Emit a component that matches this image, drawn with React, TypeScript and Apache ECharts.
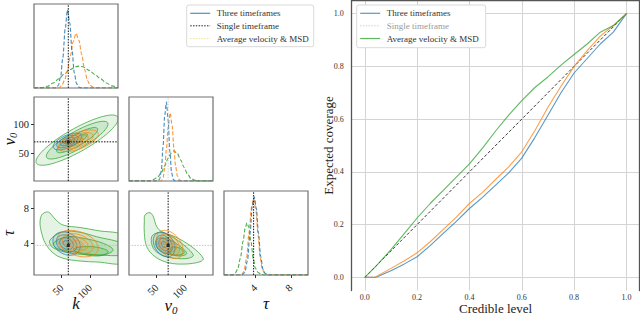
import React, { useEffect, useRef } from 'react';
import * as echarts from 'echarts';

const FONT = 'Liberation Serif';
const BLUE = '#1f77b4';
const ORANGE = '#ff7f0e';
const GREEN = '#2ca02c';

// ---------- Right panel: coverage ----------
const credibleLevels = [0, 0.04, 0.05, 0.1, 0.15, 0.2, 0.25, 0.3, 0.35, 0.4, 0.45, 0.5, 0.55, 0.6, 0.65, 0.7, 0.75, 0.8, 0.85, 0.9, 0.95, 1.0];
const coverageThree = [0, 0, 0.003, 0.025, 0.05, 0.078, 0.12, 0.167, 0.212, 0.261, 0.303, 0.35, 0.396, 0.452, 0.53, 0.615, 0.7, 0.775, 0.83, 0.885, 0.93, 1.0];
const coverageSingle = [0, 0, 0.006, 0.034, 0.062, 0.093, 0.135, 0.182, 0.228, 0.28, 0.322, 0.371, 0.419, 0.476, 0.556, 0.645, 0.725, 0.8, 0.86, 0.915, 0.955, 1.0];
const coverageAverage = [0, 0.04, 0.05, 0.105, 0.165, 0.225, 0.28, 0.33, 0.38, 0.43, 0.49, 0.555, 0.615, 0.67, 0.72, 0.76, 0.805, 0.845, 0.885, 0.93, 0.955, 1.0];
const identityLine = [[0, 0], [1, 1]];
const coverageTicks = [0, 0.2, 0.4, 0.6, 0.8, 1.0];
const coverageRange = [-0.05, 1.05];

// ---------- Corner plot ----------
const kRange = [1.5, 148.5];
const v0Range = [1.5, 148.5];
const tauRange = [0.45, 9.95];
const kTicks = [50, 100];
const v0Ticks = [50, 100];
const tauTicks = [4, 8];
const truthK = 61.5;
const truthV0 = 70;
const truthTau = 3.8;

// marginal densities (x, relative height)
const margKThree = [[1.5, 0], [40, 0], [44, 0.03], [48, 0.13], [52, 0.36], [56, 0.7], [60, 0.93], [64, 0.78], [68, 0.45], [72, 0.18], [76, 0.05], [80, 0.01], [84, 0], [148.5, 0]];
const margKSingle = [[1.5, 0], [45, 0], [50, 0.03], [55, 0.09], [60, 0.21], [65, 0.38], [70, 0.55], [75, 0.65], [80, 0.57], [85, 0.4], [90, 0.22], [95, 0.09], [100, 0.03], [106, 0.005], [110, 0], [148.5, 0]];
const margKAverage = [[1.5, 0], [15, 0.005], [25, 0.02], [35, 0.06], [45, 0.11], [55, 0.17], [65, 0.22], [75, 0.255], [80, 0.26], [88, 0.25], [98, 0.21], [108, 0.16], [118, 0.11], [128, 0.06], [138, 0.025], [148.5, 0.005]];

const margVThree = [[1.5, 0], [52, 0], [55, 0.02], [58, 0.12], [61, 0.4], [64, 0.78], [67, 0.94], [70, 0.72], [73, 0.35], [76, 0.1], [79, 0.02], [82, 0], [148.5, 0]];
const margVSingle = [[1.5, 0], [58, 0], [61, 0.04], [64, 0.15], [67, 0.38], [70, 0.64], [73.5, 0.81], [77, 0.66], [80, 0.4], [83, 0.18], [86, 0.06], [90, 0.01], [94, 0], [148.5, 0]];
const margVAverage = [[1.5, 0], [38, 0], [45, 0.02], [52, 0.05], [58, 0.1], [64, 0.18], [70, 0.27], [75, 0.33], [80, 0.36], [86, 0.33], [92, 0.25], [98, 0.16], [104, 0.08], [110, 0.03], [116, 0.01], [122, 0], [148.5, 0]];

const margTThree = [[0.45, 0], [2.5, 0], [2.8, 0.03], [3.1, 0.17], [3.4, 0.5], [3.65, 0.83], [3.88, 0.93], [4.1, 0.8], [4.35, 0.5], [4.6, 0.22], [4.85, 0.07], [5.1, 0.02], [5.4, 0], [9.95, 0]];
const margTSingle = [[0.45, 0], [2.4, 0], [2.7, 0.04], [3.0, 0.2], [3.3, 0.52], [3.55, 0.8], [3.8, 0.91], [4.05, 0.78], [4.3, 0.48], [4.55, 0.2], [4.8, 0.06], [5.1, 0.01], [5.4, 0], [9.95, 0]];
const margTAverage = [[0.45, 0], [1.4, 0], [1.7, 0.02], [2.0, 0.07], [2.3, 0.2], [2.6, 0.4], [2.85, 0.56], [3.05, 0.62], [3.25, 0.57], [3.5, 0.4], [3.75, 0.2], [4.0, 0.08], [4.3, 0.03], [4.7, 0.005], [5.0, 0], [9.95, 0]];

// 2D contours: ellipses [centre x, centre y, spread x, spread y, correlation]
const contourRadii = [2, 1.5, 1, 0.5];
const ellKVThree = [60, 70.5, 12.5, 7.3, 0.6];
const ellKVSingle = [79, 72, 17.5, 9.5, 0.6];
const ellKVAverage = [77, 73, 36, 22, 0.85];
const ellKTThree = [58.5, 4.0, 12, 0.66, -0.25];
const ellKTSingle = [78, 4.0, 18, 0.75, -0.35];
const ellVTThree = [63, 3.9, 9.5, 0.7, -0.3];
const ellVTSingle = [73, 3.9, 11.5, 0.8, -0.4];

// green (Average velocity & MSD) contours in tau panels, outer to inner
const greenKT1 = [[12, 6.3], [15, 7.24], [23.7, 7.58], [29.5, 7.46], [38.3, 6.78], [52.3, 6.1], [82, 5.82], [112, 5.48], [160, 4.8], [160, 1.9], [112, 1.92], [82, 2.03], [52.3, 2.34], [35, 2.94], [21, 4.07], [15, 5.17]];
const greenKT2 = [[29.5, 4.41], [52.8, 5.35], [82, 5.28], [111, 4.78], [160, 3.9], [160, 2.8], [111, 2.71], [82, 2.79], [52.8, 3.09], [32.5, 3.65]];
const greenKT3 = [[35.3, 4.03], [58.7, 4.78], [87.8, 4.6], [122.8, 4.03], [140, 3.28], [122.8, 2.71], [87.8, 2.9], [58.7, 3.2], [41.2, 3.47]];
const greenKT4 = [[70.3, 3.3], [80, 3.6], [111, 3.6], [131.5, 3.1], [117, 2.62], [90, 2.78]];
const greenVT1 = [[29.5, 7.24], [38.3, 7.5], [44, 7.05], [50, 5.91], [58.7, 5.35], [82, 4.78], [111.2, 3.65], [131.5, 2.34], [125.8, 1.95], [99.5, 1.69], [70.3, 1.84], [47, 2.52], [32.5, 3.65], [28.3, 5.17], [28.3, 6.48]];
const greenVT2 = [[41.2, 4.78], [52.8, 5.24], [70.3, 4.97], [93.7, 4.03], [114, 2.71], [105.3, 2.34], [82, 2.34], [58.7, 2.71], [44, 3.47]];
const greenVT3 = [[48.2, 4.03], [52.8, 4.6], [70.3, 4.49], [87.8, 3.84], [102.5, 2.9], [90.8, 2.6], [70.3, 2.83], [52.8, 3.35]];
const greenVT4 = [[76.2, 3.58], [90.8, 3.47], [98.3, 2.97], [87.8, 2.71], [73.2, 2.9]];

const panelPos = [
  [34, 4], [34, 97], [129, 97], [34, 191], [129, 191], [224, 191],
];
const PANEL = 84;

function rgba(hex: string, a: number) {
  const n = parseInt(hex.slice(1), 16);
  return `rgba(${(n >> 16) & 255},${(n >> 8) & 255},${n & 255},${a})`;
}

const tickText = { fontFamily: FONT, fontSize: 10.5, color: '#222' };
const nameBase = { fontFamily: FONT, fontSize: 17, color: '#111', fontStyle: 'italic' };
const nameBaseY = { fontFamily: FONT, fontSize: 16, color: '#111', fontStyle: 'italic' };
const v0Name = '{a|v}{b|0}';
const v0Rich = { a: { fontFamily: FONT, fontSize: 17, fontStyle: 'italic', lineHeight: 20, color: '#111' }, b: { fontFamily: FONT, fontSize: 11, verticalAlign: 'bottom', color: '#111' } };
const v0RichY = { a: { fontFamily: FONT, fontSize: 16, fontStyle: 'italic', lineHeight: 18, color: '#111' }, b: { fontFamily: FONT, fontSize: 10.5, verticalAlign: 'bottom', color: '#111' } };

function cornerX(gi: number, range: number[], ticks: number[], show: boolean, name?: string, rich?: any) {
  return {
    type: 'value', gridIndex: gi, min: range[0], max: range[1],
    axisLine: { show: false, onZero: false }, splitLine: { show: false },
    axisTick: { show, length: 3, customValues: ticks, lineStyle: { color: '#333' } },
    axisLabel: { show, customValues: ticks, rotate: 45, margin: 11, ...tickText },
    name: name || '', nameLocation: 'middle', nameGap: 20, nameMoveOverlap: false,
    nameTextStyle: { ...nameBase, rich },
  };
}
function cornerY(gi: number, range: number[], ticks: number[], show: boolean, name?: string, rich?: any, gap = 19) {
  return {
    type: 'value', gridIndex: gi, min: range[0], max: range[1],
    axisLine: { show: false, onZero: false }, splitLine: { show: false },
    axisTick: { show, length: 3, customValues: ticks, lineStyle: { color: '#333' } },
    axisLabel: { show, customValues: ticks, margin: 5, ...tickText },
    name: name || '', nameLocation: 'middle', nameGap: gap, nameMoveOverlap: false,
    nameTextStyle: { ...nameBaseY, rich },
  };
}
function margY(gi: number) {
  return {
    type: 'value', gridIndex: gi, min: 0, max: 1,
    axisLine: { show: false, onZero: false }, splitLine: { show: false }, axisTick: { show: false }, axisLabel: { show: false },
  };
}

function margLine(i: number, data: number[][], color: string) {
  return {
    type: 'line', xAxisIndex: i, yAxisIndex: i, data, symbol: 'none', silent: true,
    smooth: 0.3, smoothMonotone: 'x',
    lineStyle: { color, width: 1.1, type: [4, 2], opacity: 0.85 },
  };
}
function truthLine(i: number, data: number[][], color: string, width = 1) {
  return {
    type: 'line', xAxisIndex: i, yAxisIndex: i, data, symbol: 'none', silent: true,
    itemStyle: { color }, lineStyle: { color, width, type: [1.5, 1.3] }, z: 5,
  };
}
function ellipseSeries(i: number, params: number[], color: string, fillA: number) {
  const [cx, cy, sx, sy, rho] = params;
  const q = Math.sqrt(1 - rho * rho);
  return {
    type: 'custom', xAxisIndex: i, yAxisIndex: i, silent: true, clip: true,
    data: contourRadii.map((r) => [cx, cy, r]),
    renderItem: (p: any, api: any) => {
      const x0 = api.value(0), y0 = api.value(1), r = api.value(2);
      const pts: number[][] = [];
      for (let j = 0; j < 72; j++) {
        const t = (j / 72) * Math.PI * 2;
        pts.push(api.coord([x0 + r * sx * Math.cos(t), y0 + r * sy * (rho * Math.cos(t) + q * Math.sin(t))]));
      }
      return {
        type: 'polygon', shape: { points: pts },
        style: { fill: rgba(color, fillA), stroke: rgba(color, 0.8), lineWidth: 0.9 },
      };
    },
  };
}
function polySeries(i: number, verts: number[][], color: string, fillA: number) {
  return {
    type: 'custom', xAxisIndex: i, yAxisIndex: i, silent: true, clip: true,
    data: verts,
    renderItem: (p: any, api: any) => {
      if (p.dataIndex !== 0) return null;
      const pts = verts.map((v) => api.coord(v));
      return {
        type: 'polygon', shape: { points: pts, smooth: 0.35 },
        style: { fill: rgba(color, fillA), stroke: rgba(color, 0.8), lineWidth: 0.9 },
      };
    },
  };
}
function truthPoint(i: number, pt: number[]) {
  return { type: 'scatter', xAxisIndex: i, yAxisIndex: i, data: [pt], symbol: 'rect', symbolSize: 3, itemStyle: { color: '#111' }, silent: true, z: 6 };
}
function pairs(xs: number[], ys: number[]) {
  return xs.map((x, i) => [x, ys[i]]);
}

function legend(x: number, y: number, w: number, h: number, items: { style: any; text: string; color: string }[]) {
  const children: any[] = [
    { type: 'rect', z: 100, shape: { x, y, width: w, height: h, r: 2 }, style: { fill: '#ffffff', stroke: '#d9d9d9', lineWidth: 1 } },
  ];
  const rows = [y + 8.3, y + 20.8, y + 33.5];
  items.forEach((it, k) => {
    children.push({ type: 'line', z: 101, shape: { x1: x + 3.5, y1: rows[k], x2: x + 23.5, y2: rows[k] }, style: it.style });
    children.push({
      type: 'text', z: 101, x: x + 30, y: rows[k],
      style: { text: it.text, fill: it.color, fontFamily: FONT, fontSize: 9, verticalAlign: 'middle', align: 'left' },
    });
  });
  return children;
}

function buildOption() {
  const grids: any[] = panelPos.map(([l, t]) => ({
    left: l, top: t, width: PANEL, height: PANEL, show: true, containLabel: false, outerBoundsMode: 'none',
    borderColor: '#707070', borderWidth: 1.2, backgroundColor: 'transparent',
  }));
  grids.push({ left: 351.7, top: 0.5, width: 287.8, height: 290, containLabel: false, outerBoundsMode: 'none' });

  const rightAxisCommon = {
    type: 'value', gridIndex: 6, min: coverageRange[0], max: coverageRange[1],
  };
  const xAxes: any[] = [
    cornerX(0, kRange, kTicks, false),
    cornerX(1, kRange, kTicks, false),
    cornerX(2, v0Range, v0Ticks, false),
    cornerX(3, kRange, kTicks, true, 'k'),
    cornerX(4, v0Range, v0Ticks, true, v0Name, v0Rich),
    cornerX(5, tauRange, tauTicks, true, 'τ'),
    {
      ...rightAxisCommon, position: 'bottom',
      axisLine: { show: false, onZero: false },
      axisTick: { show: false, customValues: coverageTicks },
      axisLabel: { customValues: coverageTicks, fontFamily: FONT, fontSize: 8, color: '#333', margin: 3, formatter: (v: number) => v.toFixed(1) },
      splitLine: { show: true, lineStyle: { color: '#d4d4d4', width: 1 } },
      name: 'Credible level', nameLocation: 'middle', nameGap: 11, nameMoveOverlap: false,
      nameTextStyle: { fontFamily: FONT, fontSize: 13, color: '#222' },
    },
    {
      ...rightAxisCommon, position: 'top',
      axisLine: { show: true, onZero: false, lineStyle: { color: '#555', width: 1.3 } },
      axisTick: { show: false }, axisLabel: { show: false }, splitLine: { show: false },
    },
  ];
  const yAxes: any[] = [
    margY(0),
    cornerY(1, v0Range, v0Ticks, true, v0Name, v0RichY, 15.5),
    margY(2),
    cornerY(3, tauRange, tauTicks, true, 'τ', undefined, 17.5),
    cornerY(4, tauRange, tauTicks, false),
    margY(5),
    {
      ...rightAxisCommon, position: 'left',
      axisLine: { show: true, onZero: false, lineStyle: { color: '#555', width: 1.3 } },
      axisTick: { show: false, customValues: coverageTicks },
      axisLabel: { customValues: coverageTicks, fontFamily: FONT, fontSize: 8, color: '#333', margin: 8, formatter: (v: number) => v.toFixed(1) },
      splitLine: { show: true, lineStyle: { color: '#d4d4d4', width: 1 } },
      name: 'Expected coverage', nameLocation: 'middle', nameGap: 17, nameMoveOverlap: false,
      nameTextStyle: { fontFamily: FONT, fontSize: 13, color: '#222' },
    },
    {
      ...rightAxisCommon, position: 'right',
      axisLine: { show: true, onZero: false, lineStyle: { color: '#555', width: 1.3 } },
      axisTick: { show: false }, axisLabel: { show: false }, splitLine: { show: false },
    },
  ];

  const series: any[] = [
    // grid 0: k marginal
    margLine(0, margKAverage, GREEN),
    margLine(0, margKSingle, ORANGE),
    margLine(0, margKThree, BLUE),
    truthLine(0, [[truthK, 0], [truthK, 1]], '#111'),
    // grid 1: k-v0
    ellipseSeries(1, ellKVAverage, GREEN, 0.13),
    ellipseSeries(1, ellKVThree, BLUE, 0.07),
    ellipseSeries(1, ellKVSingle, ORANGE, 0.07),
    truthLine(1, [[truthK, v0Range[0]], [truthK, v0Range[1]]], '#111'),
    truthLine(1, [[kRange[0], truthV0], [kRange[1], truthV0]], '#111'),
    truthPoint(1, [truthK, truthV0]),
    // grid 2: v0 marginal
    margLine(2, margVAverage, GREEN),
    margLine(2, margVSingle, ORANGE),
    margLine(2, margVThree, BLUE),
    truthLine(2, [[truthV0, 0], [truthV0, 1]], '#c4c4c4', 0.8),
    // grid 3: k-tau
    polySeries(3, greenKT1, GREEN, 0.12),
    polySeries(3, greenKT2, GREEN, 0.13),
    polySeries(3, greenKT3, GREEN, 0.14),
    polySeries(3, greenKT4, GREEN, 0.16),
    ellipseSeries(3, ellKTThree, BLUE, 0.07),
    ellipseSeries(3, ellKTSingle, ORANGE, 0.07),
    truthLine(3, [[truthK, tauRange[0]], [truthK, tauRange[1]]], '#111'),
    truthLine(3, [[kRange[0], truthTau], [kRange[1], truthTau]], '#b5b5b5', 0.8),
    truthPoint(3, [truthK, truthTau]),
    // grid 4: v0-tau
    polySeries(4, greenVT1, GREEN, 0.12),
    polySeries(4, greenVT2, GREEN, 0.13),
    polySeries(4, greenVT3, GREEN, 0.14),
    polySeries(4, greenVT4, GREEN, 0.16),
    ellipseSeries(4, ellVTThree, BLUE, 0.07),
    ellipseSeries(4, ellVTSingle, ORANGE, 0.07),
    truthLine(4, [[truthV0, tauRange[0]], [truthV0, tauRange[1]]], '#111'),
    truthLine(4, [[v0Range[0], truthTau], [v0Range[1], truthTau]], '#b5b5b5', 0.8),
    truthPoint(4, [truthV0, truthTau]),
    // grid 5: tau marginal
    margLine(5, margTAverage, GREEN),
    margLine(5, margTSingle, ORANGE),
    margLine(5, margTThree, BLUE),
    truthLine(5, [[truthTau, 0], [truthTau, 1]], '#111'),
    // grid 6: coverage
    {
      type: 'line', xAxisIndex: 6, yAxisIndex: 6, data: identityLine, symbol: 'none', silent: true,
      lineStyle: { color: '#222', width: 0.9, type: [3, 2] },
    },
    {
      type: 'line', name: 'Three timeframes', xAxisIndex: 6, yAxisIndex: 6, data: pairs(credibleLevels, coverageThree), symbol: 'none', silent: true,
      lineStyle: { color: BLUE, width: 1.1, opacity: 0.75 },
    },
    {
      type: 'line', name: 'Single timeframe', xAxisIndex: 6, yAxisIndex: 6, data: pairs(credibleLevels, coverageSingle), symbol: 'none', silent: true,
      lineStyle: { color: ORANGE, width: 1.1, opacity: 0.75 },
    },
    {
      type: 'line', name: 'Average velocity & MSD', xAxisIndex: 6, yAxisIndex: 6, data: pairs(credibleLevels, coverageAverage), symbol: 'none', silent: true,
      lineStyle: { color: GREEN, width: 1.1, opacity: 0.75 },
    },
  ];

  const graphic = [
    ...legend(186.7, 5, 127, 41.7, [
      { style: { stroke: rgba(BLUE, 0.8), lineWidth: 1.2 }, text: 'Three timeframes', color: '#333' },
      { style: { stroke: '#222', lineWidth: 1, lineDash: [1.5, 1.3] }, text: 'Single timeframe', color: '#333' },
      { style: { stroke: '#f2e2a0', lineWidth: 1, lineDash: [1.5, 1.3] }, text: 'Average velocity & MSD', color: '#333' },
    ]),
    ...legend(356.7, 5, 129, 42.7, [
      { style: { stroke: rgba(BLUE, 0.75), lineWidth: 1.2 }, text: 'Three timeframes', color: '#333' },
      { style: { stroke: '#d0d0d0', lineWidth: 1, lineDash: [1.5, 1.3] }, text: 'Single timeframe', color: '#9a9a9a' },
      { style: { stroke: rgba(GREEN, 0.75), lineWidth: 1.2 }, text: 'Average velocity & MSD', color: '#333' },
    ]),
  ];

  return {
    animation: false,
    backgroundColor: '#ffffff',
    grid: grids,
    xAxis: xAxes,
    yAxis: yAxes,
    series,
    graphic,
  };
}

export default function App() {
  const ref = useRef<HTMLDivElement>(null);
  useEffect(() => {
    const chart = echarts.init(ref.current as HTMLDivElement, null, { renderer: 'svg' });
    chart.setOption(buildOption() as any);
    return () => chart.dispose();
  }, []);
  return (
    <div
      ref={ref}
      style={{ position: 'absolute', left: 0, top: 0, width: 640, height: 316, background: '#fff' }}
    />
  );
}
